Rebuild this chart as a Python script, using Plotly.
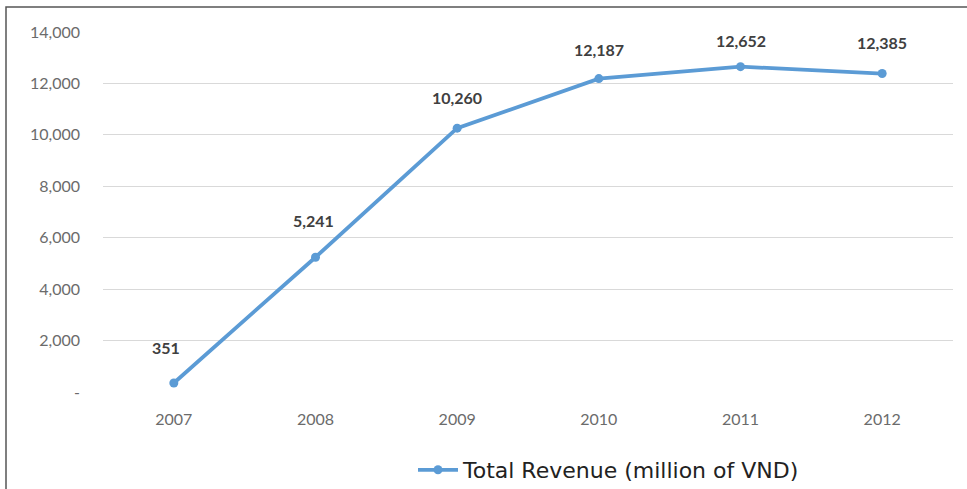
import plotly.graph_objects as go

years = ["2007", "2008", "2009", "2010", "2011", "2012"]
revenue = [351, 5241, 10260, 12187, 12652, 12385]
series_name = "Total Revenue (million of VND)"
y_tick_values = [0, 2000, 4000, 6000, 8000, 10000, 12000, 14000]
y_tick_labels = ["-", "2,000", "4,000", "6,000", "8,000", "10,000", "12,000", "14,000"]

W, H = 967, 489
L, R, T, B = 103, 14, 32, 97
pw, ph = W - L - R, H - T - B

def px(x):
    return (x - L) / pw

def py(y):
    return (H - B - y) / ph

fig = go.Figure()
fig.add_trace(go.Scatter(
    x=years, y=revenue, mode="lines+markers", name=series_name,
    line=dict(color="#5B9BD5", width=3.8),
    marker=dict(color="#5B9BD5", size=9),
))

label_shift = [35, 37, 31, 29, 26, 31]
label_xshift = [-8, -2, 0, 0, 0, 0]
for i, v in enumerate(revenue):
    fig.add_annotation(x=i, y=v, xref="x", yref="y", text=f"{v:,}", showarrow=False,
                       yshift=label_shift[i], xshift=label_xshift[i],
                       font=dict(family="Lato, Open Sans, sans-serif", size=16,
                                 color="#404040", weight="bold"))

# outer frame (top and left edges)
fig.add_shape(type="path", xref="paper", yref="paper",
              path=f"M {px(6)} {py(489)} L {px(6)} {py(7)} L {px(967)} {py(7)}",
              line=dict(color="#555555", width=1.5))

fig.update_layout(
    width=W, height=H,
    margin=dict(l=L, r=R, t=T, b=B, autoexpand=False),
    paper_bgcolor="white", plot_bgcolor="white",
    font=dict(family="Lato, Open Sans, sans-serif", color="#595959", size=16),
    showlegend=True,
    legend=dict(orientation="h", xref="container", yref="container",
                x=413 / W, xanchor="left", y=1 - 470 / H, yanchor="middle",
                font=dict(family="DejaVu Sans", size=22, color="#222222"),
                itemwidth=40, bgcolor="rgba(0,0,0,0)"),
    xaxis=dict(type="category", range=[-0.5, 5.5], showgrid=False, zeroline=False,
               showline=False, ticks="", ticklabelstandoff=16,
               tickfont=dict(size=16, color="#6b6b6b")),
    yaxis=dict(range=[0, 14000], tickvals=y_tick_values, ticktext=y_tick_labels,
               showgrid=True, gridcolor="#D9D9D9", gridwidth=1, zeroline=False,
               showline=False, ticks="", ticklabelstandoff=22,
               tickfont=dict(size=16, color="#6b6b6b")),
)

fig.write_html("out.html", config={"displayModeBar": False},
               post_script="document.body.style.margin='0';")
